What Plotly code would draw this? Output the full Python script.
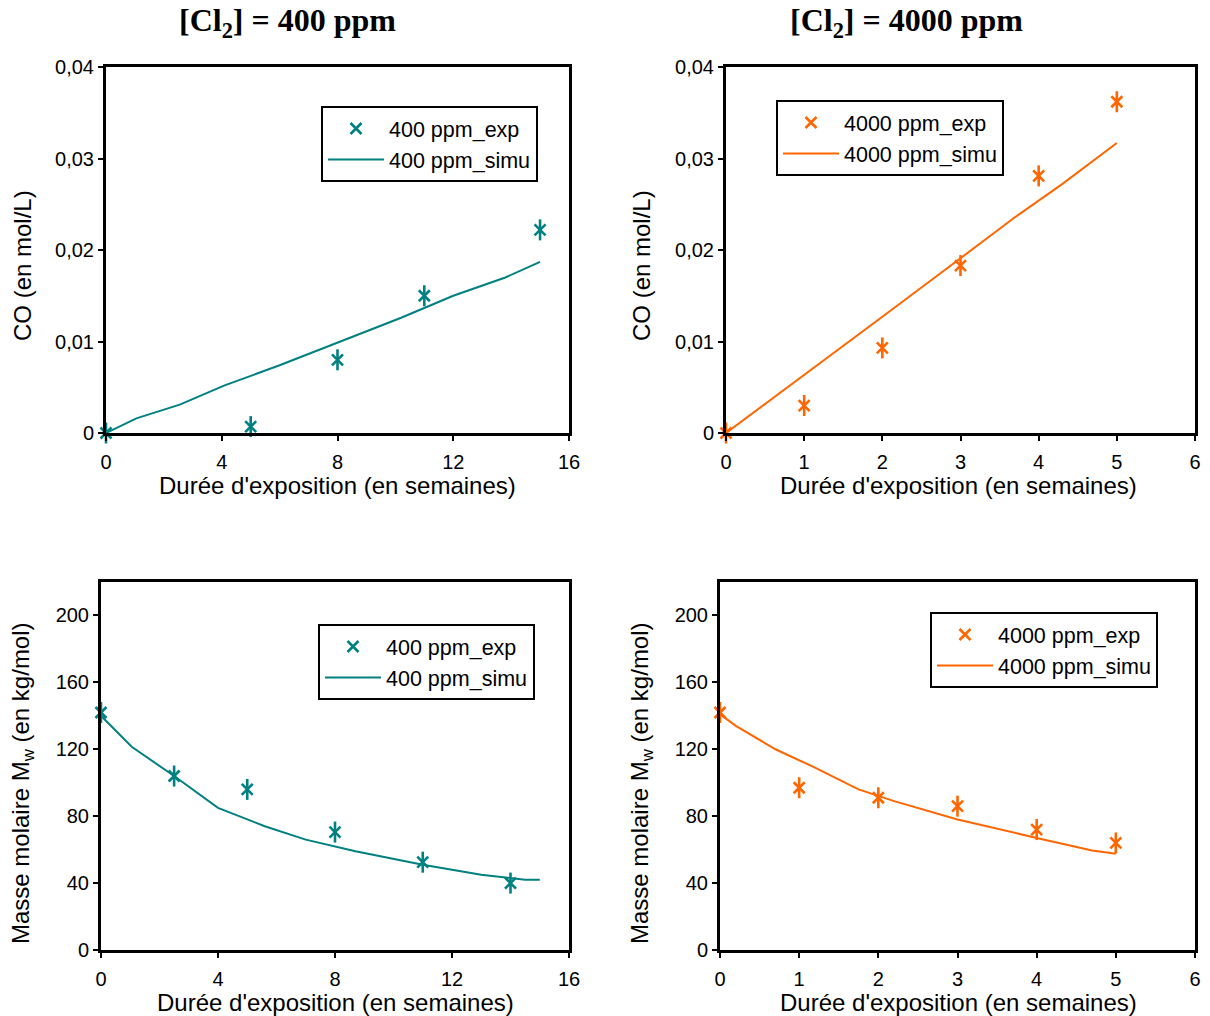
import plotly.graph_objects as go

TEAL = "#008080"
ORANGE = "#FF6600"

# ---- data ----
co400_exp_x = [0, 5, 8, 11, 15]
co400_exp_y = [0, 0.0007, 0.008, 0.015, 0.0222]
co400_sim_x = [0, 1.05, 2.55, 4.1, 6.0, 8.0, 10.2, 12.0, 13.8, 15.0]
co400_sim_y = [0, 0.0016, 0.0031, 0.0052, 0.0074, 0.0099, 0.0126, 0.015, 0.0170, 0.0187]

co4000_exp_x = [0, 1, 2, 3, 4, 5]
co4000_exp_y = [0, 0.003, 0.0093, 0.0183, 0.0281, 0.0362]
co4000_sim_x = [0, 1, 2, 3, 3.7, 4.3, 5]
co4000_sim_y = [0, 0.0063, 0.0127, 0.0191, 0.0236, 0.0272, 0.0317]

mw400_exp_x = [0, 2.5, 5, 8, 11, 14]
mw400_exp_y = [142, 104, 96, 70.5, 52.5, 40]
mw400_sim_x = [0, 1.05, 2.5, 4.0, 5.6, 7.0, 8.7, 11.0, 13.0, 14.5, 15.0]
mw400_sim_y = [140, 121.5, 104, 85, 74, 66, 59, 51, 45, 42, 42]

mw4000_exp_x = [0, 1, 2, 3, 4, 5]
mw4000_exp_y = [142, 97, 91, 86, 72, 64]
mw4000_sim_x = [0, 0.2, 0.7, 1.2, 1.75, 2.2, 3.0, 3.4, 4.0, 4.7, 5.0]
mw4000_sim_y = [141, 134, 120, 109, 96, 89, 78, 73.5, 67, 59.5, 57.5]

co_ticks = [0, 0.01, 0.02, 0.03, 0.04]
co_ticktext = ["0", "0,01", "0,02", "0,03", "0,04"]
mw_ticks = [0, 40, 80, 120, 160, 200]
x400_ticks = [0, 4, 8, 12, 16]
x4000_ticks = [0, 1, 2, 3, 4, 5, 6]

titles = ["[Cl<sub>2</sub>] = 400 ppm", "[Cl<sub>2</sub>] = 4000 ppm"]
xtitle = "Durée d'exposition (en semaines)"
ytitle_co = "CO (en mol/L)"
ytitle_mw = "Masse molaire M<sub>w</sub> (en kg/mol)"

# page body has an 8px margin: figure is placed at (8, 8)
OFF = 8
W, H = 1202, 1008
fig = go.Figure()

def add_pair(ex, ey, sx, sy, color, name, xa, ya, legend):
    fig.add_trace(go.Scatter(x=ex, y=ey, mode="markers", name=name + "_exp",
                             marker=dict(symbol="x-thin-open", size=11, color=color,
                                         line=dict(color=color, width=2.6)),
                             xaxis=xa, yaxis=ya, legend=legend, cliponaxis=False))
    fig.add_trace(go.Scatter(x=ex, y=ey, mode="markers", name=name + "_exp",
                             marker=dict(symbol="line-ns-open", size=15, color=color,
                                         line=dict(color=color, width=2.6)),
                             xaxis=xa, yaxis=ya, legend=legend, cliponaxis=False,
                             showlegend=False))
    fig.add_trace(go.Scatter(x=sx, y=sy, mode="lines", name=name + "_simu",
                             line=dict(color=color, width=2),
                             xaxis=xa, yaxis=ya, legend=legend))

add_pair(co400_exp_x, co400_exp_y, co400_sim_x, co400_sim_y, TEAL, "400 ppm", "x", "y", "legend")
add_pair(co4000_exp_x, co4000_exp_y, co4000_sim_x, co4000_sim_y, ORANGE, "4000 ppm", "x2", "y2", "legend2")
add_pair(mw400_exp_x, mw400_exp_y, mw400_sim_x, mw400_sim_y, TEAL, "400 ppm", "x3", "y3", "legend3")
add_pair(mw4000_exp_x, mw4000_exp_y, mw4000_sim_x, mw4000_sim_y, ORANGE, "4000 ppm", "x4", "y4", "legend4")

FONT = "Liberation Sans, Arial, sans-serif"
tickfont = dict(family=FONT, size=20, color="black")
titlefont = dict(family=FONT, size=24, color="black")

def px_x(p):
    return (p - OFF) / W

def px_y(p):
    return 1 - (p - OFF) / H

def xaxis(domain, rng, ticks, anchor):
    return dict(domain=domain, range=rng, tickvals=ticks, ticktext=[str(t) for t in ticks],
                showline=True, linecolor="black", linewidth=3, mirror=True,
                ticks="outside", ticklen=5, tickwidth=2, tickcolor="black",
                ticklabelstandoff=4,
                showgrid=False, zeroline=False, tickfont=tickfont, automargin=False,
                anchor=anchor)

def yaxis(domain, rng, ticks, ticktext, anchor):
    return dict(domain=domain, range=rng, tickvals=ticks, ticktext=ticktext,
                showline=True, linecolor="black", linewidth=3, mirror=True,
                ticks="outside", ticklen=5, tickwidth=2, tickcolor="black",
                showgrid=False, zeroline=False, tickfont=tickfont, automargin=False,
                anchor=anchor)

top_dom = [px_y(433), px_y(67)]
bot_dom = [px_y(950), px_y(582)]

fig.update_layout(
    width=W, height=H, margin=dict(l=0, r=0, t=0, b=0, autoexpand=False),
    paper_bgcolor="white", plot_bgcolor="white",
    font=dict(family=FONT, color="black"),
    xaxis=xaxis([px_x(106), px_x(569)], [0, 16], x400_ticks, "y"),
    yaxis=yaxis(top_dom, [0, 0.04], co_ticks, co_ticktext, "x"),
    xaxis2=xaxis([px_x(726), px_x(1195)], [0, 6], x4000_ticks, "y2"),
    yaxis2=yaxis(top_dom, [0, 0.04], co_ticks, co_ticktext, "x2"),
    xaxis3=xaxis([px_x(101), px_x(569)], [0, 16], x400_ticks, "y3"),
    yaxis3=yaxis(bot_dom, [0, 220], mw_ticks, [str(t) for t in mw_ticks], "x3"),
    xaxis4=xaxis([px_x(720), px_x(1195)], [0, 6], x4000_ticks, "y4"),
    yaxis4=yaxis(bot_dom, [0, 220], mw_ticks, [str(t) for t in mw_ticks], "x4"),
    showlegend=True,
)

legfont = dict(family=FONT, size=21.5, color="black")
def leg(xp, yp):
    return dict(x=px_x(xp), y=px_y(yp), xanchor="left", yanchor="top", xref="paper", yref="paper",
                bgcolor="white", bordercolor="black", borderwidth=2, font=legfont,
                tracegroupgap=0, itemwidth=56)

fig.update_layout(legend=leg(321, 106), legend2=leg(776, 100),
                  legend3=leg(318, 624), legend4=leg(930, 612))

# plot titles
for txt, xc in zip(titles, [287, 906]):
    fig.add_annotation(text="<b>" + txt + "</b>", x=px_x(xc), y=px_y(23), xref="paper", yref="paper",
                       showarrow=False, xanchor="center", yanchor="middle", borderpad=0,
                       font=dict(family="Liberation Serif, Times New Roman, serif", size=32, color="black"))

# axis titles
for xc, yc in [(337, 485), (958, 485), (335, 1002), (958, 1002)]:
    fig.add_annotation(text=xtitle, x=px_x(xc), y=px_y(yc), xref="paper", yref="paper",
                       showarrow=False, xanchor="center", yanchor="middle", font=titlefont)
for txt, xc, yc in [(ytitle_co, 22, 266), (ytitle_co, 641, 266),
                    (ytitle_mw, 22, 783), (ytitle_mw, 641, 783)]:
    fig.add_annotation(text=txt, x=px_x(xc), y=px_y(yc), xref="paper", yref="paper",
                       showarrow=False, xanchor="center", yanchor="middle", textangle=-90,
                       font=titlefont)

fig.write_html("out.html")
